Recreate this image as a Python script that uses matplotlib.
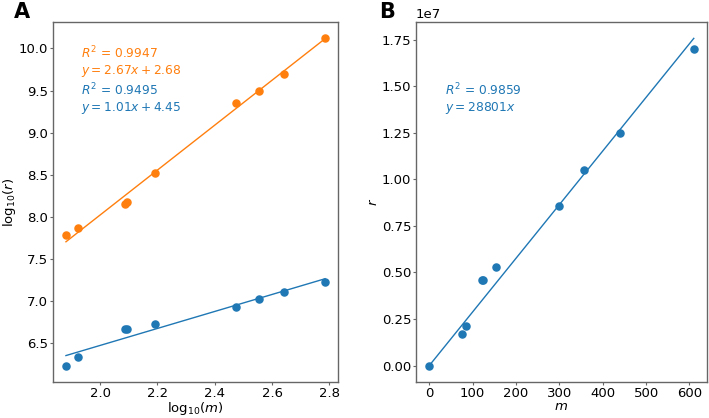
import matplotlib
matplotlib.use("Agg")
import matplotlib.pyplot as plt
import numpy as np

# data
m = [76, 84, 122, 124, 155, 299, 358, 440, 610]
r = [1.69e6, 2.13e6, 4.58e6, 4.62e6, 5.29e6, 8.58e6, 1.048e7, 1.248e7, 1.702e7]
log_m = [1.881, 1.924, 2.086, 2.093, 2.190, 2.476, 2.554, 2.643, 2.785]
log_r_orange = [7.78, 7.87, 8.15, 8.18, 8.52, 9.35, 9.49, 9.70, 10.12]
log_r_blue = [6.23, 6.33, 6.66, 6.66, 6.72, 6.93, 7.02, 7.10, 7.23]

# fit coefficients as printed
fit_orange = (2.67, 2.68, 0.9947)
fit_blue = (1.01, 4.45, 0.9495)
fit_lin = (28801, 0.9859)

orange = "#ff7f0e"
blue = "#1f77b4"
fs = 9.5
fs_note = 8.8

fig = plt.figure(figsize=(7.09, 4.18), dpi=100)
W, H = 709, 418
ax1 = fig.add_axes([53 / W, 1 - 382 / H, 285 / W, 360 / H])
ax2 = fig.add_axes([416 / W, 1 - 382 / H, 291 / W, 360 / H])

for ax in (ax1, ax2):
    ax.tick_params(labelsize=fs, length=2, pad=1.5, color="0.4")
    for sp in ax.spines.values():
        sp.set_color("0.4")
        sp.set_linewidth(1.0)

# panel A
xs = np.array([min(log_m), max(log_m)])
ax1.scatter(log_m, log_r_orange, color=orange, s=26, zorder=3)
ax1.plot(xs, fit_orange[0] * xs + fit_orange[1], color=orange, lw=1)
ax1.scatter(log_m, log_r_blue, color=blue, s=26, zorder=3)
ax1.plot(xs, fit_blue[0] * xs + fit_blue[1], color=blue, lw=1)
ax1.set_xlabel(r"log$_{10}$($m$)", fontsize=fs, labelpad=0)
ax1.set_ylabel(r"log$_{10}$($r$)", fontsize=fs, labelpad=0.5)
ax1.text(0.099, 0.913, r"$R^2$ = %.4f" % fit_orange[2], color=orange,
         fontsize=fs_note, transform=ax1.transAxes, va="center")
ax1.text(0.099, 0.863, r"$y = %.2fx + %.2f$" % fit_orange[:2], color=orange,
         fontsize=fs_note, transform=ax1.transAxes, va="center")
ax1.text(0.099, 0.811, r"$R^2$ = %.4f" % fit_blue[2], color=blue,
         fontsize=fs_note, transform=ax1.transAxes, va="center")
ax1.text(0.099, 0.762, r"$y = %.2fx + %.2f$" % fit_blue[:2], color=blue,
         fontsize=fs_note, transform=ax1.transAxes, va="center")

# panel B
m_all = [0] + m
r_all = [0] + r
xl = np.array([0, max(m_all)])
ax2.scatter(m_all, r_all, color=blue, s=26, zorder=3)
ax2.plot(xl, fit_lin[0] * xl, color=blue, lw=1)
ax2.set_xlabel(r"$m$", fontsize=fs, labelpad=0)
ax2.set_ylabel(r"$r$", fontsize=fs, labelpad=1)
ax2.yaxis.get_offset_text().set_fontsize(fs)
ax2.text(0.099, 0.812, r"$R^2$ = %.4f" % fit_lin[1], color=blue,
         fontsize=fs_note, transform=ax2.transAxes, va="center")
ax2.text(0.099, 0.762, r"$y = %dx$" % fit_lin[0], color=blue,
         fontsize=fs_note, transform=ax2.transAxes, va="center")

fig.text(22 / W, 1 - 12 / H, "A", fontsize=15, fontweight="bold", ha="center", va="center")
fig.text(387 / W, 1 - 12 / H, "B", fontsize=15, fontweight="bold", ha="center", va="center")

fig.savefig("out.png", dpi=100)
